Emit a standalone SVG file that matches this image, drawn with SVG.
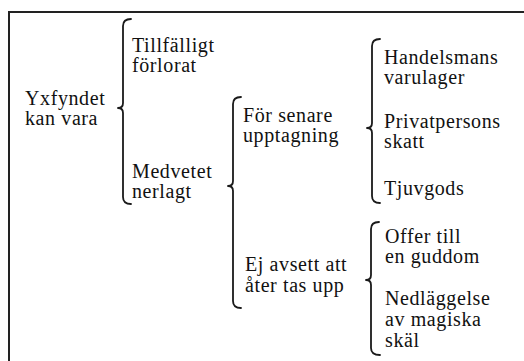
<svg xmlns="http://www.w3.org/2000/svg" width="524" height="361" viewBox="0 0 524 361">
<style>
.frame{stroke:#222;stroke-width:2;fill:none}
.brace{stroke:#1a1a1a;stroke-width:1.8;fill:none;stroke-linecap:round;stroke-linejoin:round}
.t{font-family:'Liberation Serif','DejaVu Serif','Times New Roman',serif;font-size:20px;fill:#111;letter-spacing:0.6px}
</style>
<rect width="524" height="361" fill="#fff"/>
<path class="frame" d="M9,361 V12 H524"/>
<g id="connectors">
<path class="brace" d="M131,19 C126,19 123,21 123,26 L123,103 C123,106 121,108 118,108 C121,108 123,110 123,113 L123,197 C123,202 126,204 131,204"/>
<path class="brace" d="M241,97 C236,97 233,99 233,104 L233,181 C233,184 231,186 228,186 C231,186 233,188 233,191 L233,301 C233,306 236,308 241,308"/>
<path class="brace" d="M380,39 C375,39 372,41 372,46 L372,123 C372,126 370,128 367,128 C370,128 372,130 372,133 L372,196 C372,201 375,203 380,203"/>
<path class="brace" d="M379,222 C374,222 371,224 371,229 L371,275 C371,278 369,280 366,280 C369,280 371,282 371,285 L371,348 C371,353 374,355 380,355"/>
</g>
<g class="t" font-family="Liberation Serif, DejaVu Serif, serif">
<g id="root"><text x="25" y="105">Yxfyndet</text><text x="25" y="125">kan vara</text></g>
<g id="tillfalligt"><text x="132" y="52">Tillfälligt</text><text x="132" y="72">förlorat</text></g>
<g id="medvetet"><text x="132" y="178">Medvetet</text><text x="132" y="198">nerlagt</text></g>
<g id="senare"><text x="243" y="122">För senare</text><text x="243" y="142">upptagning</text></g>
<g id="ejavsett"><text x="245" y="271">Ej avsett att</text><text x="245" y="292">åter tas upp</text></g>
<g id="handelsmans"><text x="384" y="64">Handelsmans</text><text x="384" y="84">varulager</text></g>
<g id="privatpersons"><text x="384" y="128">Privatpersons</text><text x="384" y="148">skatt</text></g>
<g id="tjuvgods"><text x="384" y="195">Tjuvgods</text></g>
<g id="offer"><text x="385" y="243">Offer till</text><text x="385" y="263">en guddom</text></g>
<g id="nedlaggelse"><text x="385" y="305">Nedläggelse</text><text x="385" y="326">av magiska</text><text x="385" y="347">skäl</text></g>
</g>
</svg>
